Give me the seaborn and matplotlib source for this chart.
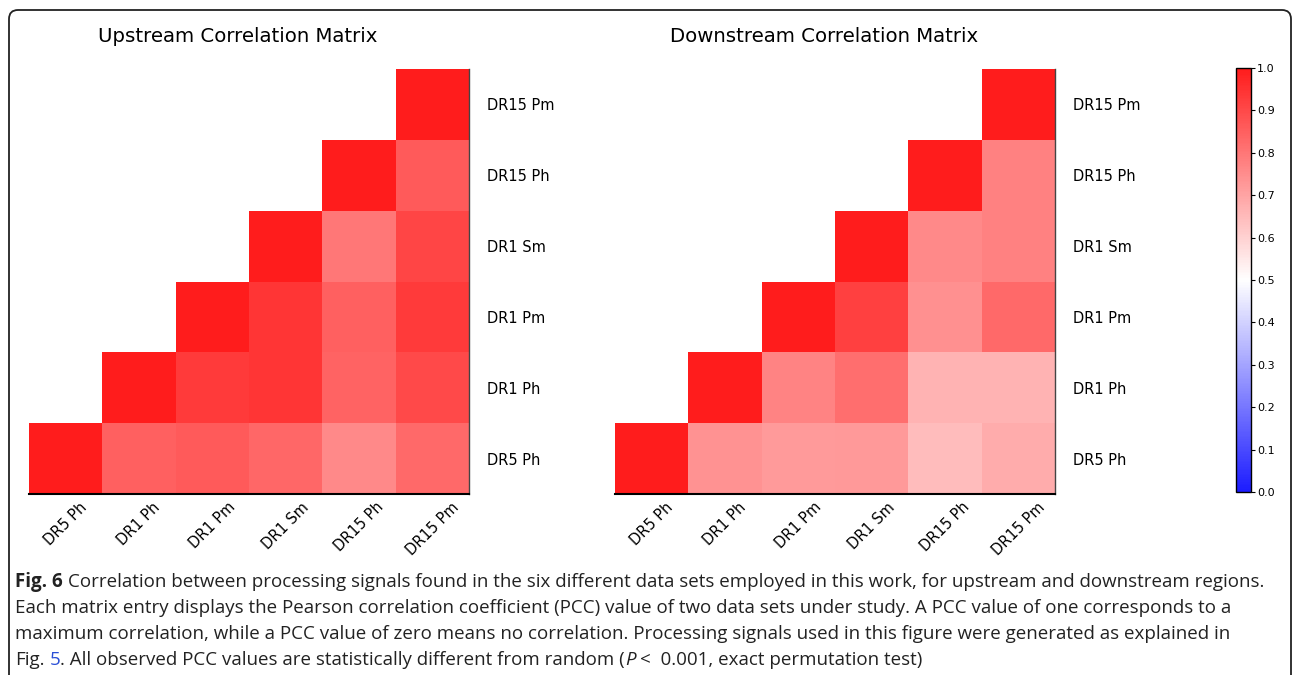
import matplotlib
matplotlib.use("Agg")
import matplotlib.pyplot as plt
from matplotlib.colors import LinearSegmentedColormap
from matplotlib.patches import FancyBboxPatch
from matplotlib.transforms import IdentityTransform
from matplotlib.font_manager import FontProperties
import numpy as np
import pandas as pd
import seaborn as sns

W, H = 1293, 675

data_sets = ["DR5 Ph", "DR1 Ph", "DR1 Pm", "DR1 Sm", "DR15 Ph", "DR15 Pm"]

# upstream PCC, one list per row, from the diagonal to the right
up_dr5_ph = [1.00, 0.85, 0.86, 0.835, 0.76, 0.83]
up_dr1_ph = [1.00, 0.93, 0.945, 0.84, 0.90]
up_dr1_pm = [1.00, 0.945, 0.85, 0.93]
up_dr1_sm = [1.00, 0.80, 0.91]
up_dr15_ph = [1.00, 0.86]
up_dr15_pm = [1.00]

# downstream PCC
down_dr5_ph = [1.00, 0.74, 0.72, 0.725, 0.645, 0.68]
down_dr1_ph = [1.00, 0.77, 0.82, 0.667, 0.667]
down_dr1_pm = [1.00, 0.92, 0.745, 0.83]
down_dr1_sm = [1.00, 0.76, 0.775]
down_dr15_ph = [1.00, 0.775]
down_dr15_pm = [1.00]

titles = ["Upstream Correlation Matrix", "Downstream Correlation Matrix"]
cbar_ticks = [0.0, 0.1, 0.2, 0.3, 0.4, 0.5, 0.6, 0.7, 0.8, 0.9, 1.0]

caption_lines = [
    [("Fig. 6", "bold", 0),
     ("Correlation between processing signals found in the six different data sets employed in this work, for upstream and downstream regions.", "normal", 1)],
    [("Each matrix entry displays the Pearson correlation coefficient (PCC) value of two data sets under study. A PCC value of one corresponds to a", "normal", 0)],
    [("maximum correlation, while a PCC value of zero means no correlation. Processing signals used in this figure were generated as explained in", "normal", 0)],
    [("Fig.", "normal", 0), ("5", "link", 1),
     (". All observed PCC values are statistically different from random (", "normal", 0),
     ("P", "italic", 0), ("<  0.001, exact permutation test)", "normal", 1)],
]


def build_matrix(rows):
    n = len(data_sets)
    m = np.full((n, n), np.nan)
    for i, row in enumerate(rows):
        m[i, i:] = row
    df = pd.DataFrame(m, index=data_sets, columns=data_sets)
    return df.iloc[::-1]


sns.set_style("white")
plt.rcParams["font.family"] = ["DejaVu Sans"]

cmap = LinearSegmentedColormap.from_list("pcc", ["#1c1cff", "#ffffff", "#ff1c1c"])

fig = plt.figure(figsize=(W / 100, H / 100), dpi=100)

matrices = [
    build_matrix([up_dr5_ph, up_dr1_ph, up_dr1_pm, up_dr1_sm, up_dr15_ph, up_dr15_pm]),
    build_matrix([down_dr5_ph, down_dr1_ph, down_dr1_pm, down_dr1_sm, down_dr15_ph, down_dr15_pm]),
]
lefts = [29, 615]
title_x = [238, 824]
cax = fig.add_axes([1236 / W, 1 - 492 / H, 15 / W, 424 / H])

for i, df in enumerate(matrices):
    ax = fig.add_axes([lefts[i] / W, 1 - 494 / H, 440 / W, 425 / H])
    sns.heatmap(df, ax=ax, cmap=cmap, vmin=0, vmax=1, mask=df.isna(),
                cbar=(i == 0), cbar_ax=cax if i == 0 else None)
    ax.yaxis.tick_right()
    ax.set_yticks(np.arange(len(df)) + 0.5)
    ax.set_yticklabels(df.index, rotation=0, ha="left")
    ax.set_xticks(np.arange(len(df)) + 0.5)
    ax.set_xticklabels(df.columns, rotation=45, ha="center")
    ax.tick_params(axis="y", length=0, pad=13, labelsize=10.5, labelcolor="black")
    ax.tick_params(axis="x", length=0, pad=4, labelsize=10.5, labelcolor="black")
    ax.set_xlabel("")
    ax.set_ylabel("")
    ax.spines["bottom"].set_visible(True)
    ax.spines["bottom"].set_color("black")
    ax.spines["bottom"].set_linewidth(1.5)
    ax.spines["right"].set_visible(True)
    ax.spines["right"].set_color("#444444")
    ax.spines["right"].set_linewidth(1.0)
    fig.text(title_x[i] / W, 1 - 42 / H, titles[i], ha="center", va="baseline",
             fontsize=14.2, color="black")

cbar = ax.figure.axes[1].collections[0].colorbar
cbar.set_ticks(cbar_ticks)
cbar.ax.set_yticklabels(["%.1f" % t for t in cbar_ticks])
cbar.ax.tick_params(labelsize=8, length=3, width=0.8, pad=1.5, color="black", labelcolor="black")
cbar.outline.set_edgecolor("black")
cbar.outline.set_linewidth(1.0)

# frame round the figure
frame = FancyBboxPatch((9, -30), 1282, H - 10 + 30, boxstyle="round,pad=0,rounding_size=9",
                       transform=IdentityTransform(), fill=False, ec="#222222", lw=1.3)
fig.add_artist(frame)

# caption
renderer = fig.canvas.get_renderer()
cap_color = "#222222"


def props(style, size):
    fp = FontProperties(family="Open Sans", size=size)
    if style == "bold":
        fp.set_weight("bold")
    if style == "italic":
        fp.set_style("italic")
    return fp


def advance(s, fp):
    w1 = renderer.get_text_width_height_descent("|" + s + "|", fp, ismath=False)[0]
    w0 = renderer.get_text_width_height_descent("||", fp, ismath=False)[0]
    return w1 - w0


def line_width(pieces, size):
    total = 0
    for txt, style, gap in pieces:
        fp = props(style, size)
        total += gap * advance(" ", fp) + advance(txt, fp)
    return total


size = 12 * 1248 / line_width(caption_lines[0], 12)
baselines = [587, 613, 639, 665]
for pieces, yb in zip(caption_lines, baselines):
    x = 15
    for txt, style, gap in pieces:
        fp = props(style, size)
        x += gap * advance(" ", fp)
        fig.text(x / W, 1 - yb / H, txt, fontproperties=fp, va="baseline", ha="left",
                 color="#2a4fd6" if style == "link" else cap_color)
        x += advance(txt, fp)

fig.savefig("out.png", dpi=100)
